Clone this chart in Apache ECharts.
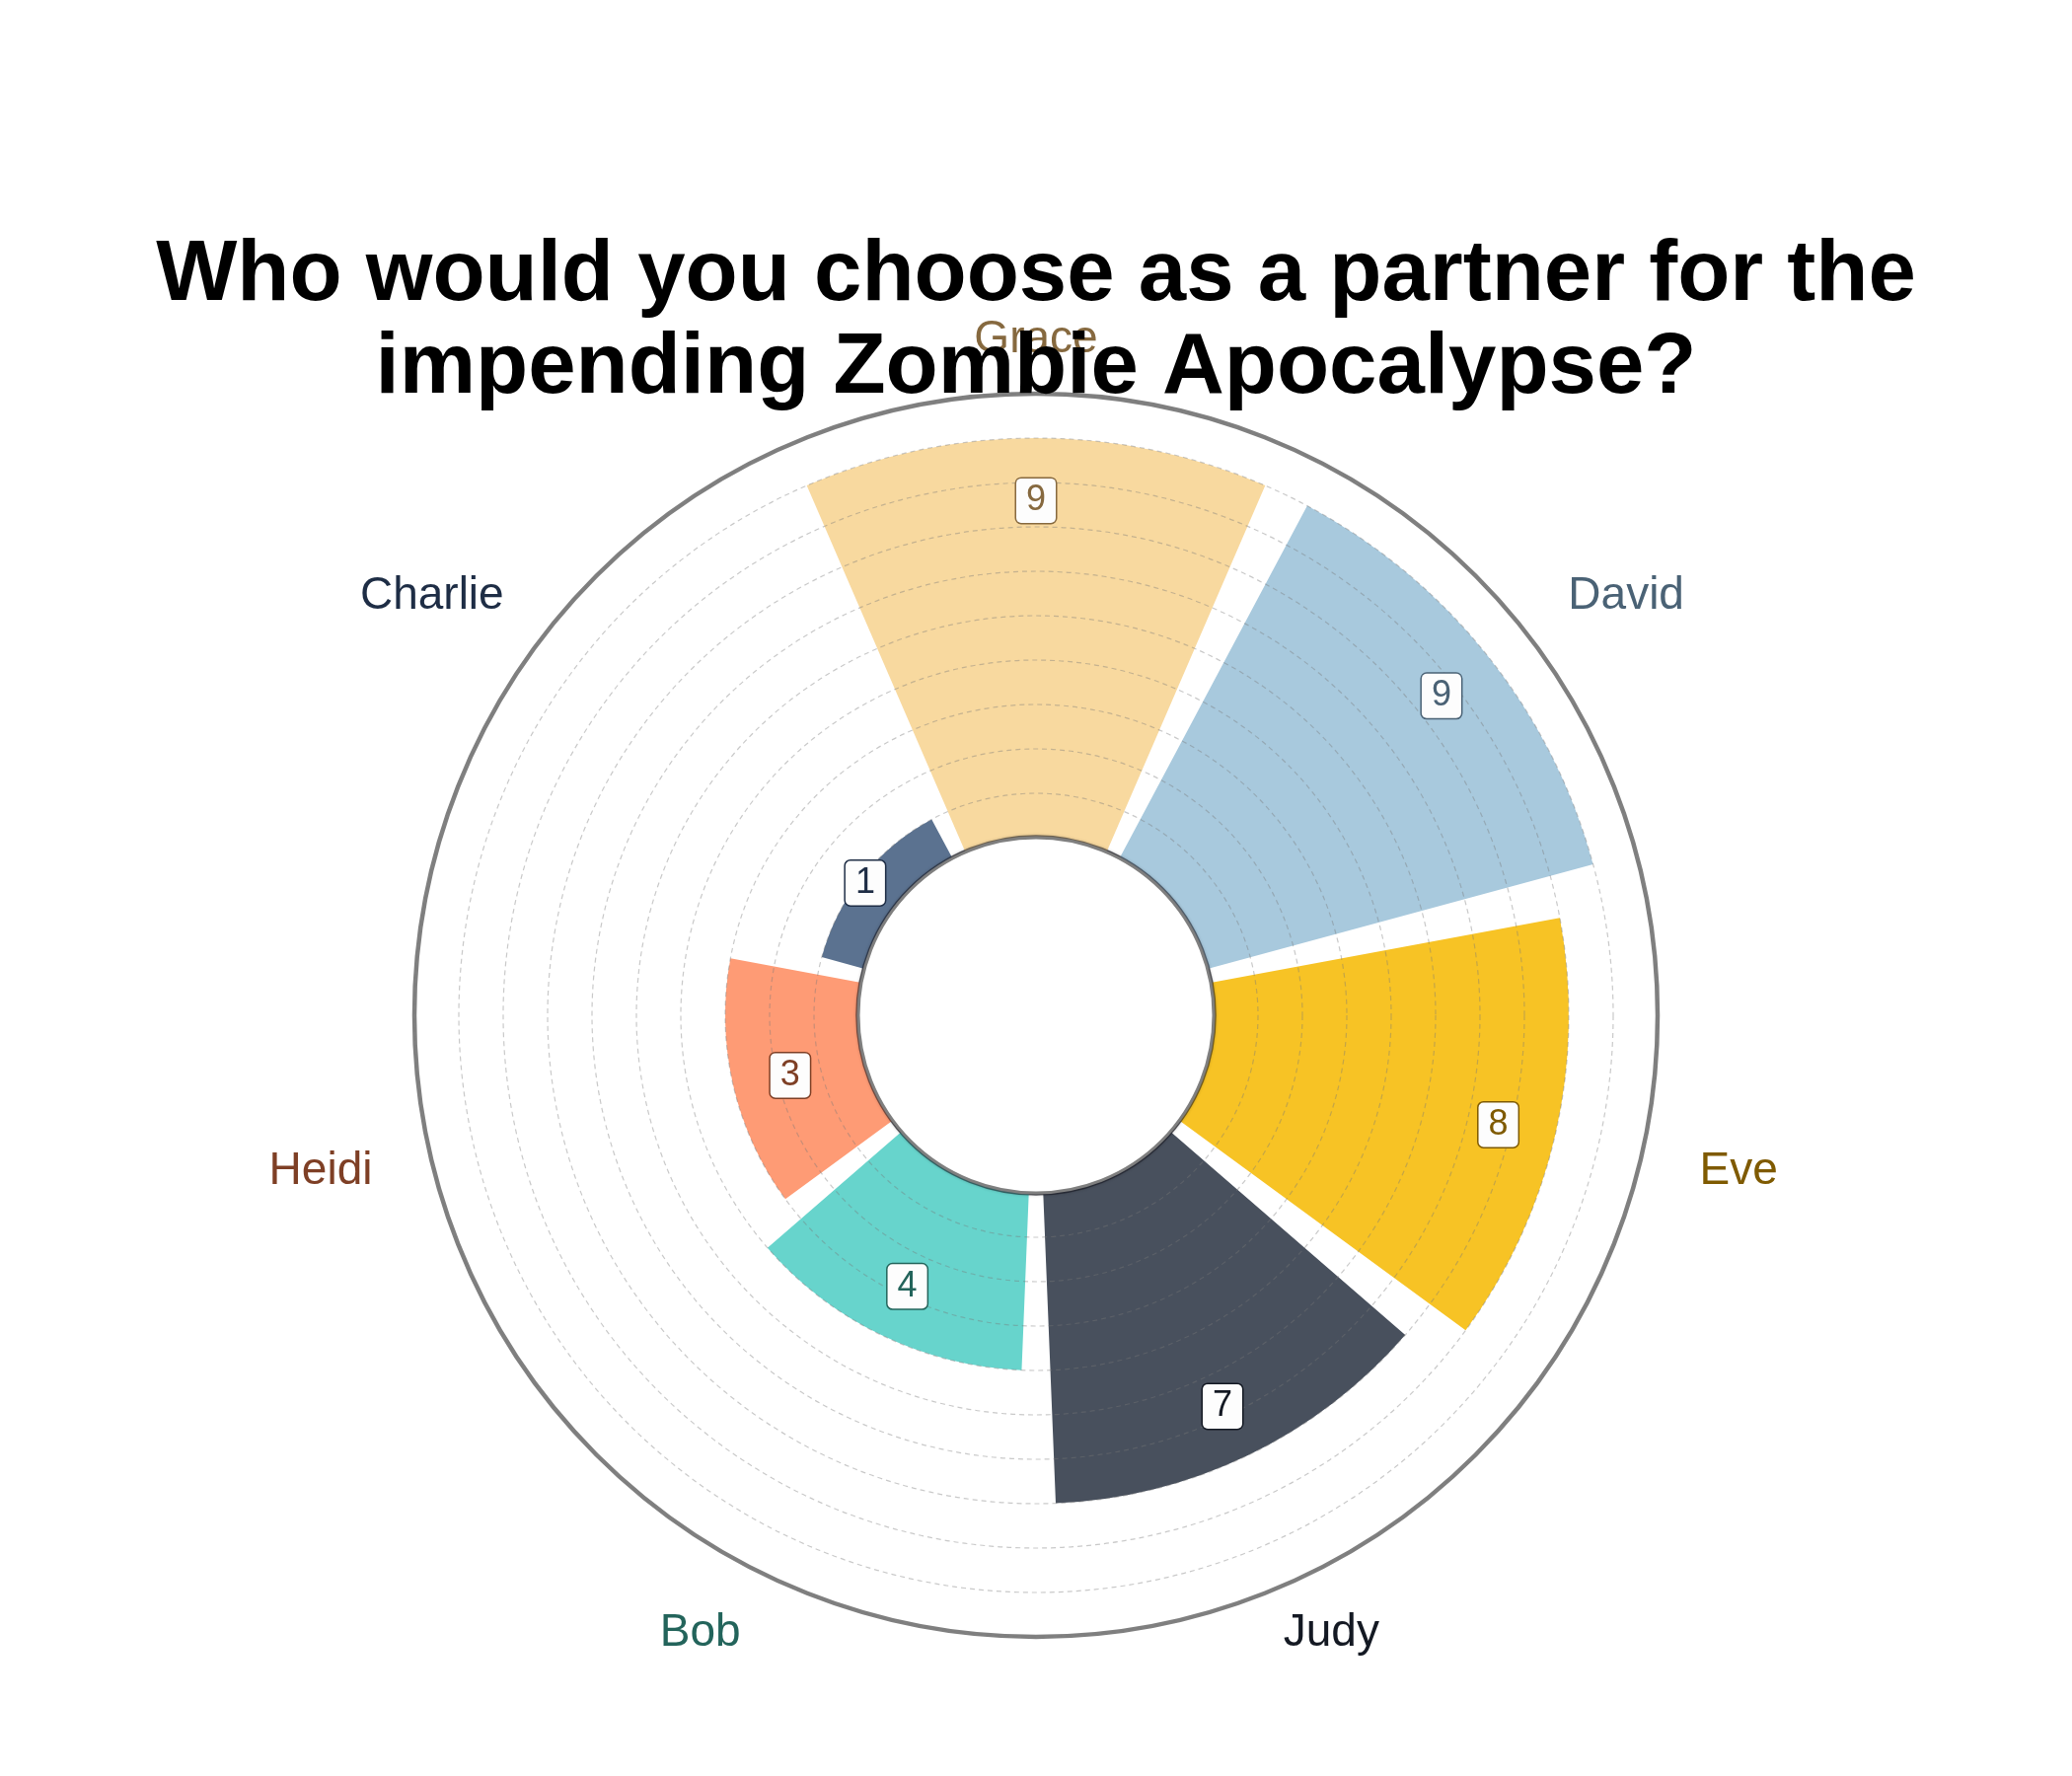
<!DOCTYPE html>
<html>
<head>
<meta charset="utf-8">
<script src="https://cdn.jsdelivr.net/npm/echarts@6/dist/echarts.min.js"></script>
<style>
html,body{margin:0;padding:0;background:#fff;}
#chart{width:2100px;height:1800px;}
</style>
</head>
<body>
<div id="chart"></div>
<script>
// ---- data ----
const names = ['Grace', 'David', 'Eve', 'Judy', 'Bob', 'Heidi', 'Charlie'];
const votes = [9, 9, 8, 7, 4, 3, 1];
const radialTicks = [0, 10, 1]; // min, max, interval
const titleText = 'Who would you choose as a partner for the\nimpending Zombie Apocalypse?';

// ---- styles ----
const barColors = ['#F8D99F', '#A8C9DD', '#F7C325', '#48505D', '#67D4CC', '#FE9B75', '#5B7290'];
const textColors = ['#86693F', '#4A6275', '#7F5A00', '#141923', '#23645B', '#7E3F25', '#1E2D45'];
const CX = 1050, CY = 1029, R0 = 180, R1 = 630;
const FONT = "'Liberation Sans', Arial, Helvetica, sans-serif";

const n = names.length;
const chart = echarts.init(document.getElementById('chart'), null, {renderer: 'canvas'});

function alignFor(i) {
  const s = Math.sin(i * 2 * Math.PI / n);
  return s > 0.6 ? 'left' : (s < -0.3 ? 'right' : 'center');
}

const barData = votes.map((v, i) => ({
  value: v,
  itemStyle: {color: barColors[i]}
}));

const valueLabelData = votes.map((v, i) => ({
  value: [Math.max(v - 1.32, 0.92), names[i], v],
  label: {color: textColors[i], borderColor: textColors[i]}
}));

const catLabelData = names.map((nm, i) => ({
  value: [11.33, nm],
  name: nm,
  label: {color: textColors[i], align: alignFor(i)}
}));

const option = {
  backgroundColor: '#ffffff',
  animation: false,
  title: {
    text: titleText,
    left: 'center',
    top: 228,
    z: 20,
    textStyle: {
      fontFamily: FONT,
      fontSize: 87,
      fontWeight: 'bold',
      color: '#000000',
      lineHeight: 94
    }
  },
  polar: {
    center: [CX, CY],
    radius: [R0, R1]
  },
  angleAxis: {
    type: 'category',
    data: names,
    startAngle: 90 + 180 / n,
    clockwise: true,
    z: 1,
    axisLine: {show: true, lineStyle: {color: '#808080', width: 4.5}},
    axisTick: {show: false},
    axisLabel: {show: false},
    splitLine: {show: false}
  },
  radiusAxis: {
    type: 'value',
    min: radialTicks[0],
    max: radialTicks[1],
    interval: radialTicks[2],
    z: 5,
    axisLine: {show: false},
    axisTick: {show: false},
    axisLabel: {show: false},
    splitLine: {
      show: true,
      lineStyle: {color: 'rgba(120,120,120,0.40)', type: [5, 4], width: 1.2}
    }
  },
  graphic: [{
    type: 'circle',
    z: 8,
    shape: {cx: CX, cy: CY, r: R0 + 1.5},
    style: {
      fill: 'rgba(0,0,0,0)',
      stroke: 'rgba(20,20,30,0.55)',
      lineWidth: 2.5,
      shadowBlur: 3,
      shadowColor: 'rgba(0,0,0,0.35)'
    }
  }, {
    type: 'circle',
    z: 9,
    shape: {cx: CX, cy: CY, r: R0},
    style: {
      fill: '#ffffff',
      stroke: '#7f7f7f',
      lineWidth: 3
    }
  }],
  series: [
    {
      type: 'bar',
      coordinateSystem: 'polar',
      data: barData,
      barCategoryGap: '9%',
      z: 2
    },
    {
      type: 'scatter',
      coordinateSystem: 'polar',
      data: valueLabelData,
      symbolSize: 0,
      clip: false,
      z: 10,
      itemStyle: {opacity: 1},
      label: {
        show: true,
        position: 'inside',
        offset: [0, 4],
        formatter: p => String(p.value[2]),
        fontFamily: FONT,
        fontSize: 36,
        backgroundColor: '#fdfdfd',
        borderWidth: 1.5,
        borderRadius: 5,
        padding: [5, 10, 4, 10]
      }
    },
    {
      type: 'scatter',
      coordinateSystem: 'polar',
      data: catLabelData,
      symbolSize: 0,
      clip: false,
      z: 3,
      itemStyle: {opacity: 1},
      label: {
        show: true,
        position: 'inside',
        offset: [0, 5],
        formatter: p => p.name,
        fontFamily: FONT,
        fontSize: 46,
        verticalAlign: 'middle'
      }
    }
  ]
};

chart.setOption(option);
</script>
</body>
</html>
